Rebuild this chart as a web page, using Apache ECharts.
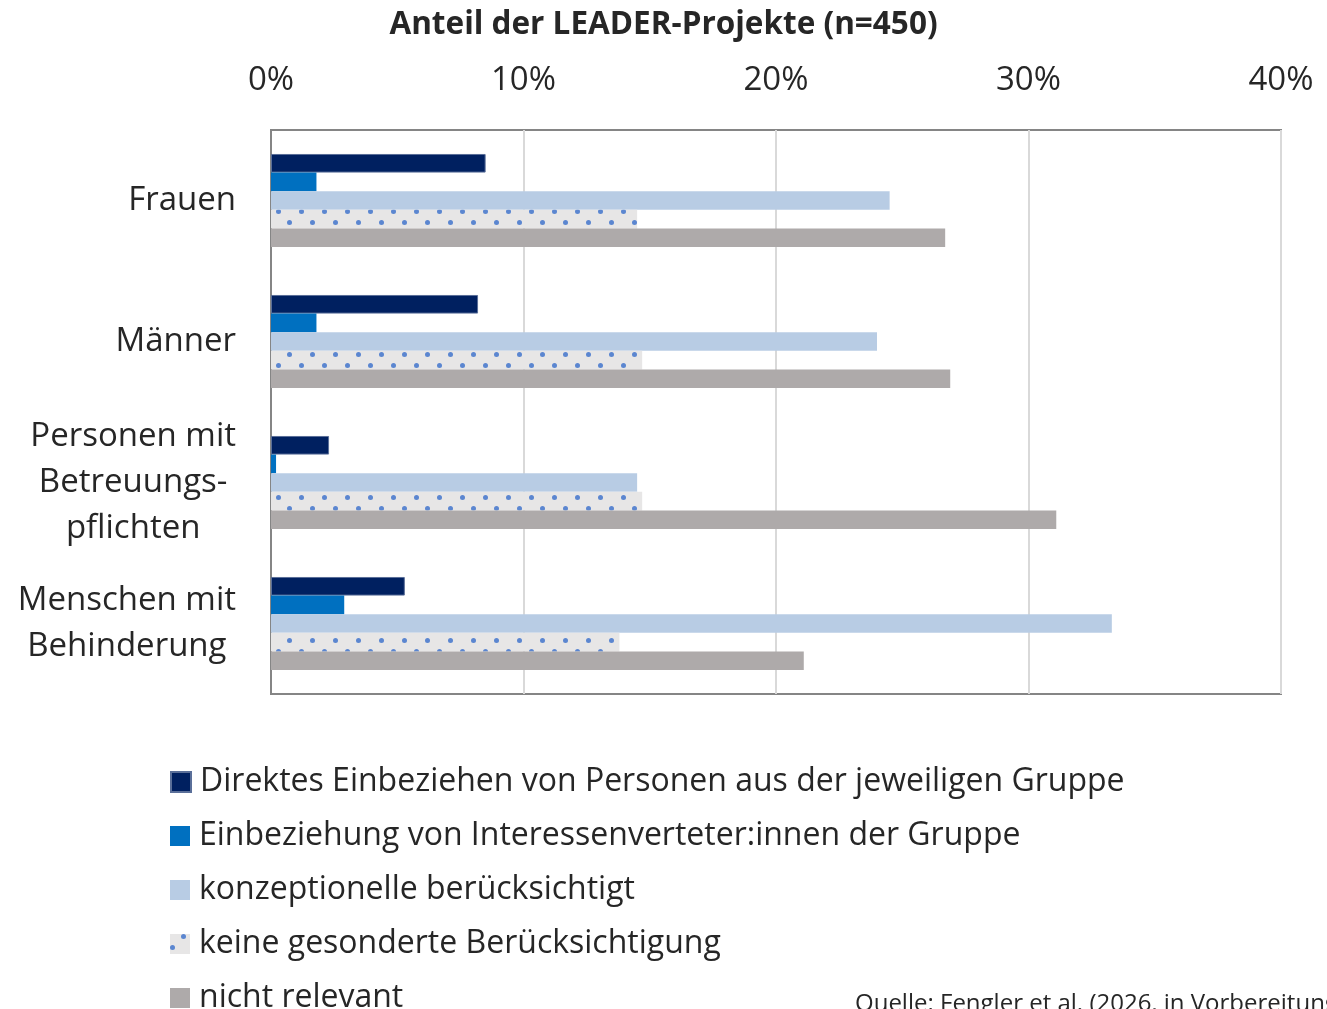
<!DOCTYPE html>
<html>
<head>
<meta charset="utf-8">
<script src="https://cdn.jsdelivr.net/npm/echarts@6/dist/echarts.min.js"></script>
<style>
  html, body { margin: 0; padding: 0; background: #fff; }
  #chart { width: 1327px; height: 1009px; }
</style>
</head>
<body>
<div id="chart"></div>
<script>
// Daten (Anteil in %)
const categories = ['Frauen', 'Männer', 'Personen mit\nBetreuungs-\npflichten', 'Menschen mit\nBehinderung']
const seriesNames = [
  'Direktes Einbeziehen von Personen aus der jeweiligen Gruppe',
  'Einbeziehung von Interessenverteter:innen der Gruppe',
  'konzeptionelle berücksichtigt',
  'keine gesonderte Berücksichtigung',
  'nicht relevant'
]
const direkt = [8.5, 8.2, 2.3, 5.3]
const vertreter = [1.8, 1.8, 0.2, 2.9]
const konzeptionell = [24.5, 24.0, 14.5, 33.3]
const keine = [14.5, 14.7, 14.7, 13.8]
const nichtRelevant = [26.7, 26.9, 31.1, 21.1]
const xTicks = [0, 10, 20, 30, 40]

const font = '"Open Sans", "Noto Sans", sans-serif'
const colors = ['#002060', '#0070c0', '#b8cce4', '#e7e6e6', '#aeaaaa']
const values = [direkt, vertreter, konzeptionell, keine, nichtRelevant]

const chart = echarts.init(document.getElementById('chart'))

const series = values.map((data, i) => {
  const s = {
    name: seriesNames[i],
    type: 'bar',
    data: data,
    barGap: '0%',
    barCategoryGap: '34%',
    itemStyle: { color: colors[i] }
  }
  if (i === 0) {
    s.itemStyle.borderColor = '#5a6f99'
    s.itemStyle.borderWidth = 1
  }
  if (i === 3) {
    // gepunktetes Muster
    s.itemStyle.decal = {
      symbol: 'circle',
      color: '#5b86d0',
      symbolSize: 1,
      dashArrayX: [[4.5, 17.1], [0, 10.8, 4.5, 6.3]],
      dashArrayY: [4.5, 5.2],
      rotation: 0
    }
  }
  return s
})

// eine Legende pro Eintrag, damit nichts umbricht
const legends = seriesNames.map((name, k) => ({
  orient: 'vertical',
  left: 170,
  top: 766 + k * 54,
  padding: 0,
  itemWidth: 20,
  itemHeight: 20,
  icon: 'rect',
  textStyle: { fontFamily: font, fontSize: 32, color: '#262626', padding: [0, 0, 0, 4] },
  data: [name]
}))

chart.setOption({
  animation: false,
  title: {
    text: 'Anteil der LEADER-Projekte (n=450)',
    left: 'center',
    top: 4,
    textStyle: { fontFamily: font, fontWeight: 'bold', fontSize: 31.5, color: '#262626' }
  },
  legend: legends,
  grid: {
    left: 271,
    right: 46,
    top: 130,
    bottom: 315,
    show: true,
    borderColor: '#858585',
    borderWidth: 2
  },
  xAxis: {
    type: 'value',
    position: 'top',
    min: xTicks[0],
    max: xTicks[xTicks.length - 1],
    interval: 10,
    axisLine: { show: false },
    axisTick: { show: false },
    splitLine: { lineStyle: { color: '#d9d9d9', width: 2 } },
    axisLabel: {
      margin: 33,
      fontFamily: font,
      fontSize: 33,
      color: '#262626',
      formatter: v => v + '%'
    }
  },
  yAxis: {
    type: 'category',
    inverse: true,
    data: categories,
    axisLine: { show: true, lineStyle: { color: '#858585', width: 2 } },
    axisTick: { show: false },
    axisLabel: {
      margin: 35,
      align: 'right',
      fontFamily: font,
      fontSize: 33,
      color: '#262626',
      lineHeight: 46,
      formatter: v => v.split('\n').map(l => '{c|' + l + '}').join('\n'),
      rich: {
        c: { align: 'center', fontFamily: font, fontSize: 33, color: '#262626', lineHeight: 46 }
      }
    }
  },
  graphic: [{
    type: 'text',
    left: 855,
    top: 992,
    style: { text: 'Quelle: Fengler et al. (2026, in Vorbereitung)', fontFamily: font, fontSize: 24, fill: '#262626' }
  }],
  series: series
})
</script>
</body>
</html>
